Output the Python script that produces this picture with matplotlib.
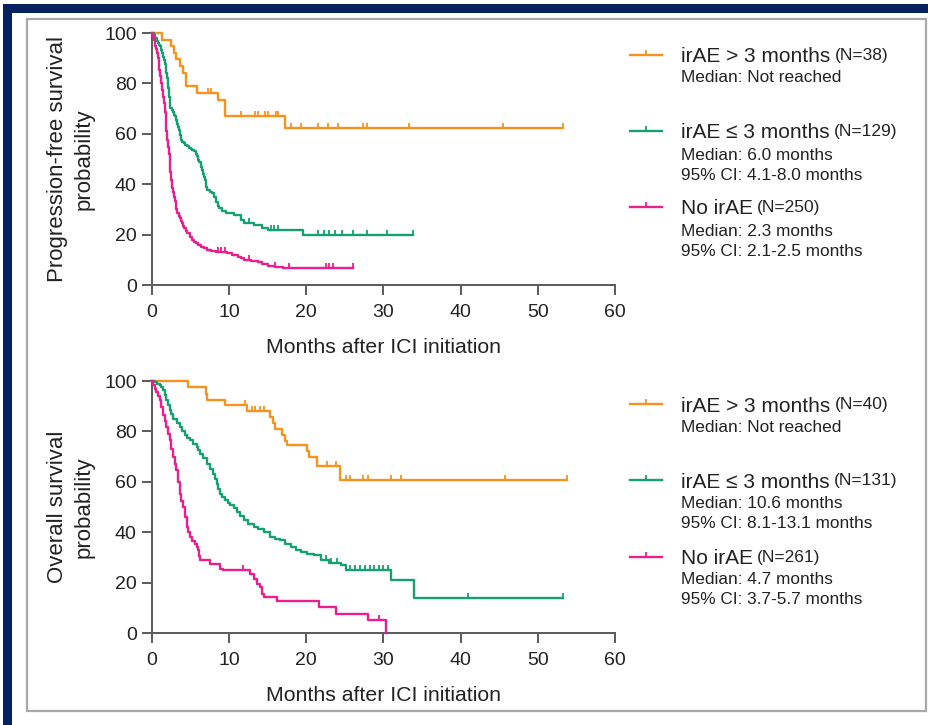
import numpy as np
import matplotlib
matplotlib.use('Agg')
import matplotlib.pyplot as plt
from matplotlib.patches import Rectangle
from matplotlib.lines import Line2D
from matplotlib.path import Path

plt.rcParams['font.family'] = ['Liberation Sans', 'DejaVu Sans']

# ---------------- data ----------------
# PFS panel
pfs_late_t = [1.3, 2.4, 2.8, 3.1, 3.6, 4.0, 4.4, 5.8, 8.6, 9.5, 17.2]
pfs_late_s = [97.4, 94.7, 92.1, 89.5, 86.8, 84.2, 79.0, 76.2, 73.4, 67.2, 62.3]
pfs_late_end = 53.3
pfs_late_cens = [7.2, 7.6, 11.5, 13.3, 13.7, 14.6, 15.0, 16.1, 16.3, 18.0, 19.3,
                 21.5, 22.8, 24.1, 27.4, 27.8, 33.3, 45.5, 53.3]

pfs_early_t = [0.2, 0.43, 0.6, 0.8, 0.95, 1.09, 1.2, 1.3, 1.42, 1.52, 1.65, 1.75,
               1.85, 1.96, 2.05, 2.1, 2.17, 2.3, 2.39, 2.55, 2.7, 2.9, 3.04,
               3.15, 3.25, 3.38, 3.48, 3.6, 3.7, 3.9, 4.1, 4.3, 4.57, 4.8, 5.0,
               5.2, 5.43, 5.65, 5.87, 6.0, 6.15, 6.3, 6.4, 6.5, 6.62, 6.74, 6.85,
               6.95, 7.05, 7.17, 7.5, 7.83, 8.05, 8.26, 8.5, 8.7, 9.1, 9.57,
               10.65, 11.5, 11.96, 13.26, 14.2, 15.0, 19.6]
pfs_early_s = [99.2, 98, 97, 96, 95.3, 94.7, 93.2, 92, 90.6, 89.4, 87.6, 86,
               84, 82, 80, 78, 74.8, 72.5, 70.2, 69.3, 68.5, 67.6, 66.9,
               65.4, 64, 62.8, 61.6, 59.6, 57.6, 56.9, 56.2, 55.6, 55, 54.5, 54,
               53.5, 53, 52, 51, 49.6, 49, 48.3, 46.9, 45.5, 44.2, 43, 41.5,
               40, 38.8, 37.7, 37.0, 36.4, 34.8, 33.1, 31.5, 30.5, 29.5, 28.5,
               27.8, 25.8, 24.5, 23.8, 22.5, 21.9, 19.9]
pfs_early_end = 33.8
pfs_early_cens = [12.6, 15.4, 15.8, 16.3, 21.5, 22.3, 23.0, 23.7, 24.6, 26.0,
                  27.8, 30.5, 33.8]

pfs_none_t = [0.1, 0.22, 0.35, 0.45, 0.55, 0.65, 0.75, 0.85, 0.97, 1.09, 1.2,
              1.3, 1.41, 1.52, 1.63, 1.75, 1.85, 1.96, 2.07, 2.17, 2.3, 2.39,
              2.5, 2.6, 2.7, 2.83, 2.95, 3.05, 3.15, 3.26, 3.45, 3.6, 3.75, 3.9,
              4.05, 4.2, 4.4, 4.57, 4.9, 5.2, 5.45, 5.7, 6.0, 6.3, 6.7, 7.17,
              7.7, 8.26, 9.0, 9.78, 10.4, 11.1, 11.5, 11.96, 12.8, 13.7, 14.3,
              15.0, 16.0, 17.0]
pfs_none_s = [98.8, 97.4, 96.2, 95, 93.5, 92, 90, 88, 85.4, 82.8, 80.2,
              77.5, 74.8, 72.2, 68.6, 65, 61.3, 57.6, 54.8, 52, 49.6, 45,
              41.7, 38.4, 36.8, 35.1, 33.3, 31.5, 30, 28.5, 27.5, 26.5, 25.5, 24.5,
              23.5, 22.5, 21.5, 20.5, 19.2, 17.9, 17.2, 16.5, 15.8, 15.2, 14.5, 13.9,
              13.5, 13.2, 12.9, 12.6, 12.0, 11.3, 10.6, 9.9, 9.6, 9.3, 8.4,
              7.5, 7.0, 6.6]
pfs_none_end = 26.1
pfs_none_cens = [8.5, 9.0, 9.5, 12.6, 16.0, 17.8, 22.5, 23.0, 23.5, 26.1]

# OS panel
os_late_t = [4.7, 7.0, 7.17, 9.48, 12.3, 15.35, 15.7, 16.0, 16.9, 17.3, 17.5,
             20.1, 20.35, 21.4, 24.3]
os_late_s = [97.5, 95.0, 92.6, 90.3, 88.0, 85.6, 83.2, 80.8, 78.4, 76.0, 74.5,
             72.3, 70.0, 66.1, 60.8]
os_late_end = 53.8
os_late_cens = [12.0, 13.0, 13.3, 14.0, 14.5, 22.7, 23.8, 25.1, 25.6, 27.3,
                28.0, 31.0, 32.3, 45.8, 53.8]

os_early_t = [0.35, 0.7, 1.0, 1.2, 1.43, 1.65, 1.87, 2.1, 2.3, 2.5, 2.74, 3.2,
              3.6, 3.9, 4.26, 4.6, 4.9, 5.3, 5.78, 6.0, 6.2, 6.6, 7.1, 7.5,
              7.96, 8.2, 8.4, 8.6, 8.83, 9.1, 9.48, 9.8, 10.13, 10.6, 11.0,
              11.4, 11.87, 12.5, 13.17, 13.8, 14.5, 15.35, 16.0, 16.65, 17.3,
              17.96, 18.6, 19.26, 20.1, 21.0, 21.87, 23.0, 24.5, 25.1, 31.0, 34.0]
os_early_s = [99.6, 99.0, 98.3, 97.5, 96.3, 94.5, 92.3, 90.5, 88.4, 86.8, 85.0, 83.3,
              81.7, 80.0, 78.4, 77.3, 76.5, 75.0, 73.8, 72.5, 71.2, 69.5, 67.2, 65.2,
              63.2, 61.2, 59.3, 57.3, 55.3, 54.0, 52.6, 51.6, 50.7, 49.5, 48.0,
              46.3, 44.7, 43.4, 42.1, 41.1, 40.1, 38.1, 37.4, 36.8, 35.4,
              34.1, 33.1, 32.1, 31.4, 30.8, 28.8, 27.8, 26.9, 24.9, 20.9, 14.0]
os_early_end = 53.2
os_early_cens = [22.5, 23.2, 24.0, 25.6, 26.3, 27.0, 27.6, 28.2, 28.8, 29.4,
                 30.0, 30.6, 41.0, 53.2]

os_none_t = [0.13, 0.35, 0.57, 0.8, 1.0, 1.2, 1.43, 1.65, 1.87, 2.1, 2.3, 2.5,
             2.74, 2.95, 3.17, 3.4, 3.6, 3.8, 4.04, 4.25, 4.48, 4.7, 4.9, 5.2,
             5.57, 5.8, 6.0, 6.1, 6.2, 7.5, 8.8, 9.26, 12.7, 13.17, 13.6, 14.04,
             14.26, 14.48, 16.2, 21.65, 23.8, 27.96, 30.35]
os_none_s = [98.3, 97.0, 95.6, 94.0, 92.3, 89.5, 86.4, 84.0, 81.7, 79.0, 76.5, 73.0,
             69.8, 67.0, 64.6, 60.0, 55.3, 52.5, 50.0, 46.0, 42.1, 40.0, 38.1, 36.5,
             35.4, 34.0, 32.8, 30.5, 28.8, 27.5, 25.5, 24.9, 23.5, 21.6, 19.6, 18.3,
             15.6, 14.3, 12.7, 10.3, 7.4, 5.3, 0.0]
os_none_end = 30.35
os_none_cens = [11.8, 29.4]

xticks = [0, 10, 20, 30, 40, 50, 60]
yticks = [0, 20, 40, 60, 80, 100]

ORANGE = '#F7921E'
GREEN = '#14A06F'
PINK = '#EC1E8C'
NAVY = '#06215F'

pfs_curves = [(pfs_late_t, pfs_late_s, pfs_late_end, pfs_late_cens, ORANGE),
              (pfs_early_t, pfs_early_s, pfs_early_end, pfs_early_cens, GREEN),
              (pfs_none_t, pfs_none_s, pfs_none_end, pfs_none_cens, PINK)]
os_curves = [(os_late_t, os_late_s, os_late_end, os_late_cens, ORANGE),
             (os_early_t, os_early_s, os_early_end, os_early_cens, GREEN),
             (os_none_t, os_none_s, os_none_end, os_none_cens, PINK)]

pfs_legend = [("irAE > 3 months", "(N=38)", ["Median: Not reached"]),
              ("irAE \u2264 3 months", "(N=129)", ["Median: 6.0 months", "95% CI: 4.1-8.0 months"]),
              ("No irAE", "(N=250)", ["Median: 2.3 months", "95% CI: 2.1-2.5 months"])]
os_legend = [("irAE > 3 months", "(N=40)", ["Median: Not reached"]),
             ("irAE \u2264 3 months", "(N=131)", ["Median: 10.6 months", "95% CI: 8.1-13.1 months"]),
             ("No irAE", "(N=261)", ["Median: 4.7 months", "95% CI: 3.7-5.7 months"])]

# ---------------- figure ----------------
W, H = 929, 725
fig = plt.figure(figsize=(W / 100, H / 100), dpi=100)
fig.patch.set_facecolor('white')


def fx(px):
    return px / W


def fy(py):
    return 1 - py / H


# outer navy frame (top + left) and inner light-gray panel
fig.patches.append(Rectangle((fx(3), fy(12.5)), 1, fy(4) - fy(12.5),
                             transform=fig.transFigure, facecolor=NAVY, edgecolor='none', zorder=-10))
fig.patches.append(Rectangle((fx(3), 0), fx(12.5) - fx(3), fy(4),
                             transform=fig.transFigure, facecolor=NAVY, edgecolor='none', zorder=-10))
fig.patches.append(Rectangle((fx(27), fy(711)), fx(926) - fx(27), fy(19) - fy(711),
                             transform=fig.transFigure, facecolor='white', edgecolor='#A8A8A8',
                             linewidth=1.6, zorder=-10))

tick_marker = Path([(0, 0), (0, 1)], [Path.MOVETO, Path.LINETO])
LW = 1.7


def draw_panel(top_px, curves, ylabel, legend, legend_rows):
    bottom_px = top_px + 252
    ax = fig.add_axes([fx(152), fy(bottom_px), fx(615) - fx(152), fy(top_px) - fy(bottom_px)])
    ax.set_xlim(0, 60)
    ax.set_ylim(0, 100)
    for sp in ['top', 'right']:
        ax.spines[sp].set_visible(False)
    for sp in ['left', 'bottom']:
        ax.spines[sp].set_color('#5A5A5A')
        ax.spines[sp].set_linewidth(1.4)
    ax.set_xticks(xticks)
    ax.set_yticks(yticks)
    ax.tick_params(direction='out', length=7, width=1.4, color='#5A5A5A',
                   labelsize=14, labelcolor='#222222', pad=4)
    ax.tick_params(axis='x', pad=7)
    ax.set_xlabel('Months after ICI initiation', fontsize=15.3, color='#222222', labelpad=12)
    ax.patch.set_alpha(0)
    for t, s, end, cens, col in curves:
        xs = [0] + list(t) + [end]
        ys = [100] + list(s) + [s[-1]]
        ax.step(xs, ys, where='post', color=col, lw=LW, clip_on=False, zorder=3)
        levels = np.array([100] + list(s))
        idx = np.searchsorted(np.array(t), np.array(cens), side='right')
        ax.plot(cens, levels[idx], linestyle='none', marker=tick_marker, markersize=6.5,
                markeredgewidth=1.3, color=col, clip_on=False, zorder=3)
    fig.text(fx(71), fy((top_px + bottom_px) / 2), ylabel, rotation=90, ha='center',
             va='center', fontsize=16, color='#222222', linespacing=1.35,
             multialignment='center')
    # legend
    cols = [c[4] for c in curves]
    for (main, n, subs), col, rows in zip(legend, cols, legend_rows):
        ly = rows[0]
        fig.add_artist(Line2D([fx(630), fx(662)], [fy(ly), fy(ly)], color=col, lw=LW,
                              transform=fig.transFigure))
        fig.add_artist(Line2D([fx(646)], [fy(ly)], color=col, marker=tick_marker,
                              markersize=6.5, markeredgewidth=1.3, transform=fig.transFigure))
        tm = fig.text(fx(681), fy(ly + 2), main, fontsize=15, color='#222222',
                      va='center', ha='left')
        ax.annotate(n, xy=(1, 0), xycoords=tm, xytext=(3, 2.3),
                    textcoords='offset points', fontsize=12.5, color='#222222',
                    va='bottom', ha='left', annotation_clip=False)
        for sub, ry in zip(subs, rows[1:]):
            fig.text(fx(681), fy(ry), sub, fontsize=12.4, color='#222222', va='center', ha='left')
    return ax


ax1 = draw_panel(33, pfs_curves, 'Progression-free survival\nprobability', pfs_legend,
                 [(55, 78), (131, 155, 176), (207, 231, 251)])
ax2 = draw_panel(381, os_curves, 'Overall survival\nprobability', os_legend,
                 [(404, 427), (480, 503, 523), (557, 579, 599)])

fig.savefig('out.png', dpi=100)
